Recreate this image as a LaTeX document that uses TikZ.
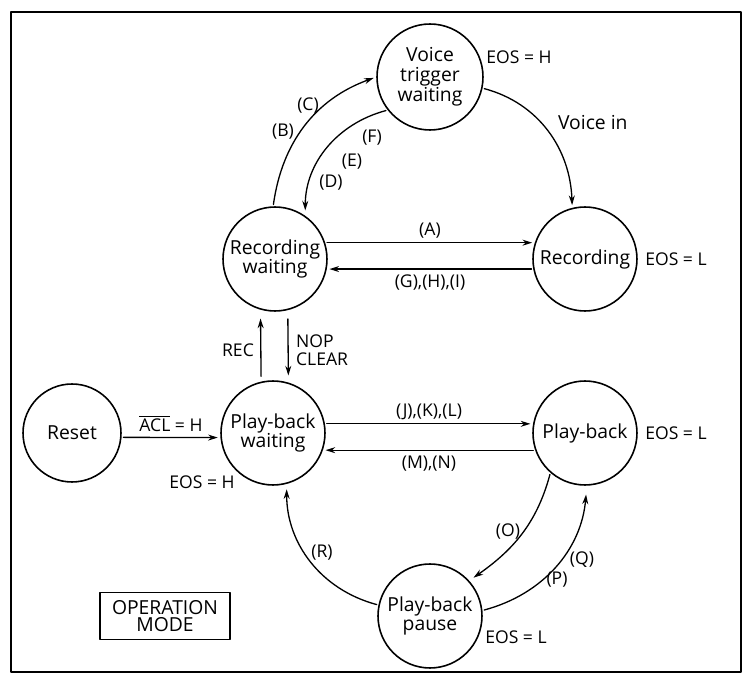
\documentclass[tikz,border=0pt]{standalone}
\usepackage{fontspec}
\setmainfont{Open Sans}
\usetikzlibrary{arrows.meta}

\begin{document}
\begin{tikzpicture}[x=.02cm,y=.02cm,line cap=round,line join=round,
    st/.style={draw,circle,line width=.9pt,minimum size=2.08cm,inner sep=0pt,
      align=center,font=\fontsize{11}{11.3}\selectfont},
    lbl/.style={font=\fontsize{10}{10.5}\selectfont,inner sep=1pt},
    big/.style={font=\fontsize{11}{11.3}\selectfont,inner sep=1pt},
    tr/.style={line width=.75pt,-{Stealth[length=5.5pt,width=3.4pt]},
      shorten >=1.5pt,shorten <=1pt}]
    \useasboundingbox (0,0) rectangle (745,680);
    \draw[line width=1.2pt] (11,8) rectangle (741,668);
    % states
    \node[st,minimum size=2.12cm] (vtw) at (430,603) {Voice\\trigger\\waiting};
    \node[st] (recw) at (275,421) {Recording\\waiting};
    \node[st] (rec) at (585,421) {Recording};
    \node[st,minimum size=1.96cm] (reset) at (72,247) {Reset};
    \node[st] (pbw) at (273,247) {Play-back\\waiting};
    \node[st] (pb) at (585,247) {Play-back};
    \node[st] (pbp) at (430,64) {Play-back\\pause};
    \node[lbl] (eosvtw) at (519,623) {EOS = H};
    \node[lbl] (eosrec) at (676,421) {EOS = L};
    \node[lbl] (eospbw) at (202,198) {EOS = H};
    \node[lbl] (eospb) at (676,247) {EOS = L};
    \node[lbl] (eospbp) at (516,43) {EOS = L};
    \node[draw,line width=.75pt,big,align=center,minimum width=2.6cm,
      minimum height=.94cm,font=\fontsize{11}{9.8}\selectfont] (opmode) at (165,64) {OPERATION\\MODE};
    % transitions
    \draw[tr] (recw.18) -- node[lbl,above=1pt] (la) {(A)} (rec.162);
    \draw[tr] (rec.191) -- node[lbl,below=2pt] (lghi) {(G),(H),(I)} (recw.-11);
    \draw[tr] (recw.92) to[out=82,in=200] (vtw.180);
    \node[lbl] (lb) at (283,548) {(B)};
    \node[lbl] (lc) at (308,574) {(C)};
    \draw[tr,shorten >=3pt] (vtw.218) to[out=195,in=90] (recw.55);
    \node[lbl] (lf) at (372,542) {(F)};
    \node[lbl] (le) at (352,518) {(E)};
    \node[lbl] (ld) at (331,497) {(D)};
    \draw[tr] (vtw.-12) to[out=-15,in=92] (rec.104);
    \node[big,anchor=west] (lvoice) at (556,557) {Voice in};
    \draw[tr,shorten <=3pt,shorten >=5pt] (pbw.103) -- (recw.254);
    \node[lbl] (lrec) at (238,330) {REC};
    \draw[tr,shorten <=5pt,shorten >=4pt] (recw.284) -- (pbw.73);
    \node[lbl,anchor=west,align=left] (lnop) at (294,330) {NOP\\CLEAR};
    \draw[tr] (reset.-5) -- node[lbl,above=2pt] (lacl) {$\overline{\mbox{ACL}}$ = H} (pbw.185);
    \draw[tr] (pbw.10) -- node[lbl,above=1pt] (ljkl) {(J),(K),(L)} (pb.170);
    \draw[tr] (pb.199) -- node[lbl,below=2pt] (lmn) {(M),(N)} (pbw.-19);
    \draw[tr,shorten >=3pt] (pb.229) to[out=-105,in=35] (pbp.42);
    \node[lbl] (lo) at (508,148) {(O)};
    \draw[tr,shorten >=5pt] (pbp.6) to[out=15,in=-95] (pb.-88);
    \node[lbl] (lq) at (582,120) {(Q)};
    \node[lbl] (lp) at (557,100) {(P)};
    \draw[tr,shorten >=3pt] (pbp.168) to[out=165,in=-90] (pbw.-75);
    \node[lbl] (lr) at (322,127) {(R)};
  \end{tikzpicture}
\end{document}
